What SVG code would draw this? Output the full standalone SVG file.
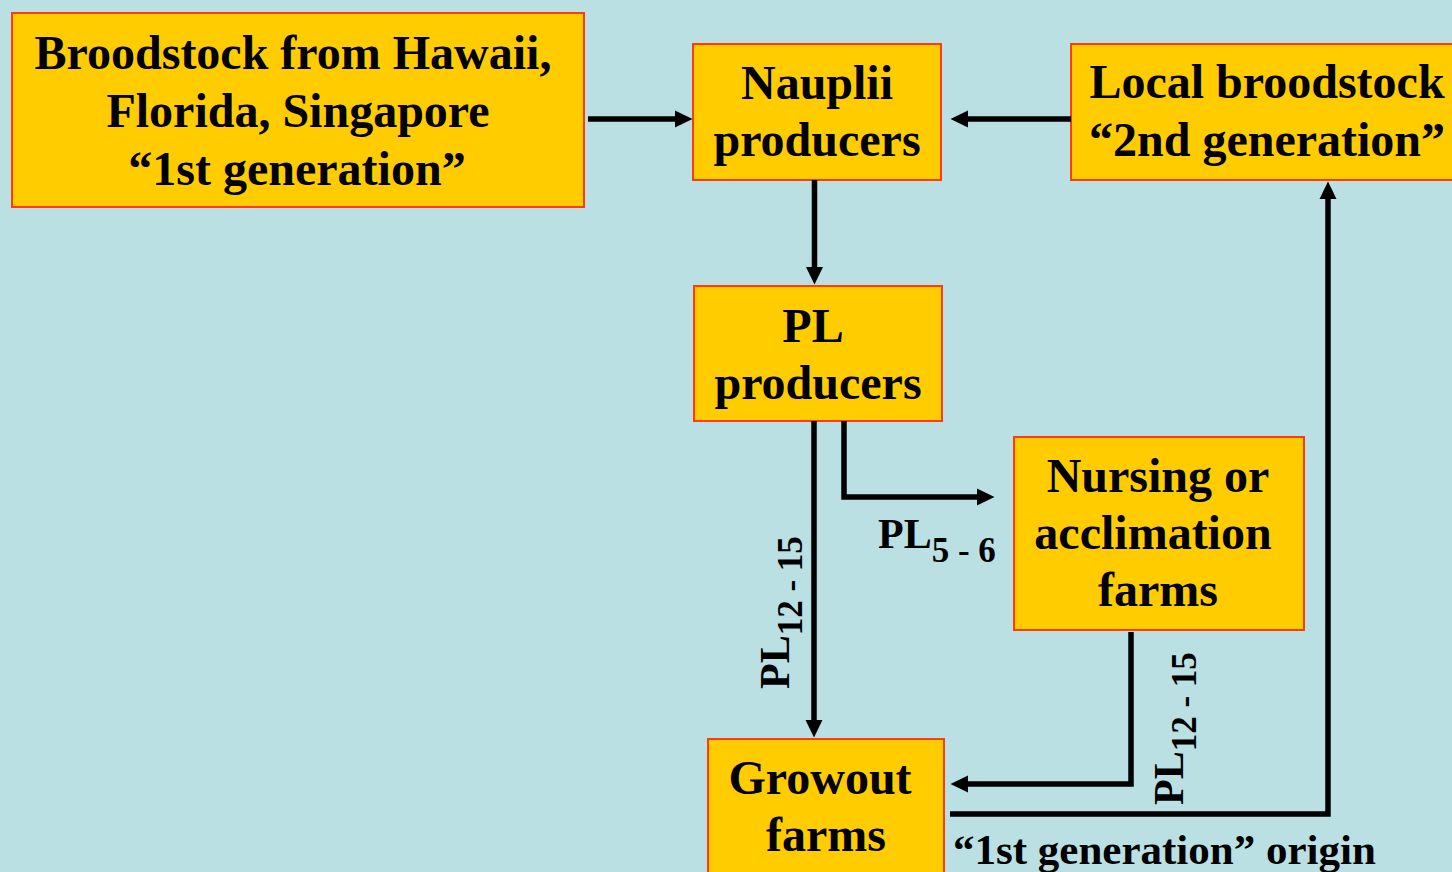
<svg xmlns="http://www.w3.org/2000/svg" width="1452" height="872" viewBox="0 0 1452 872">
<style>
.box{fill:#FFCC00;stroke:#FF3C10;stroke-width:2}
.t{font-family:"Liberation Serif","Times New Roman",serif;font-weight:bold;font-size:48px;fill:#000;text-anchor:middle}
.l{font-family:"Liberation Serif","Times New Roman",serif;font-weight:bold;font-size:42px;fill:#000}
.c{fill:none;stroke:#000;stroke-width:5.5;stroke-linejoin:miter}
</style>
<defs>
<marker id="ah" markerUnits="userSpaceOnUse" markerWidth="18" markerHeight="18" viewBox="0 0 18 18" refX="3" refY="9" orient="auto">
<path d="M0,0.5 L17.5,9 L0,17.5 Z" fill="#000"/>
</marker>
</defs>
<rect width="1452" height="872" fill="#BAE0E3"/>
<g id="broodstock">
<rect class="box" x="12" y="13" width="572" height="194"/>
<text class="t" x="293" y="69">Broodstock from Hawaii,</text>
<text class="t" x="298" y="127">Florida, Singapore</text>
<text class="t" x="297" y="185">“1st generation”</text>
</g>
<g id="nauplii">
<rect class="box" x="693" y="44" width="248" height="136"/>
<text class="t" x="817" y="99">Nauplii</text>
<text class="t" x="817" y="156">producers</text>
</g>
<g id="local">
<rect class="box" x="1071" y="44" width="390" height="136"/>
<text class="t" x="1267" y="98">Local broodstock</text>
<text class="t" x="1267" y="156">“2nd generation”</text>
</g>
<g id="pl">
<rect class="box" x="694" y="286" width="248" height="135"/>
<text class="t" x="813" y="342">PL</text>
<text class="t" x="818" y="399">producers</text>
</g>
<g id="nursing">
<rect class="box" x="1014" y="437" width="290" height="193"/>
<text class="t" x="1158" y="492">Nursing or</text>
<text class="t" x="1153" y="549">acclimation</text>
<text class="t" x="1158" y="606">farms</text>
</g>
<g id="growout">
<rect class="box" x="708" y="739" width="236" height="150"/>
<text class="t" x="820" y="794">Growout</text>
<text class="t" x="826" y="851">farms</text>
</g>
<g id="connectors">
<path class="c" d="M588,119 H678" marker-end="url(#ah)"/>
<path class="c" d="M1071,119 H965" marker-end="url(#ah)"/>
<path class="c" d="M814.5,180 V270" marker-end="url(#ah)"/>
<path class="c" d="M814,421 V723" marker-end="url(#ah)"/>
<path class="c" d="M844,421 V497 H980" marker-end="url(#ah)"/>
<path class="c" d="M1131,632 V784 H965" marker-end="url(#ah)"/>
<path class="c" d="M950,814 H1328 V196" marker-end="url(#ah)"/>
</g>
<g id="labels">
<text class="l" transform="translate(789,689) rotate(-90)">PL<tspan font-size="35" dy="13">12 - 15</tspan></text>
<text class="l" x="878" y="548">PL<tspan font-size="35" dy="14">5 - 6</tspan></text>
<text class="l" transform="translate(1183,805) rotate(-90)">PL<tspan font-size="35" dy="13">12 - 15</tspan></text>
<text class="l" x="953" y="864" style="font-size:43px">“1st generation” origin</text>
</g>
</svg>
